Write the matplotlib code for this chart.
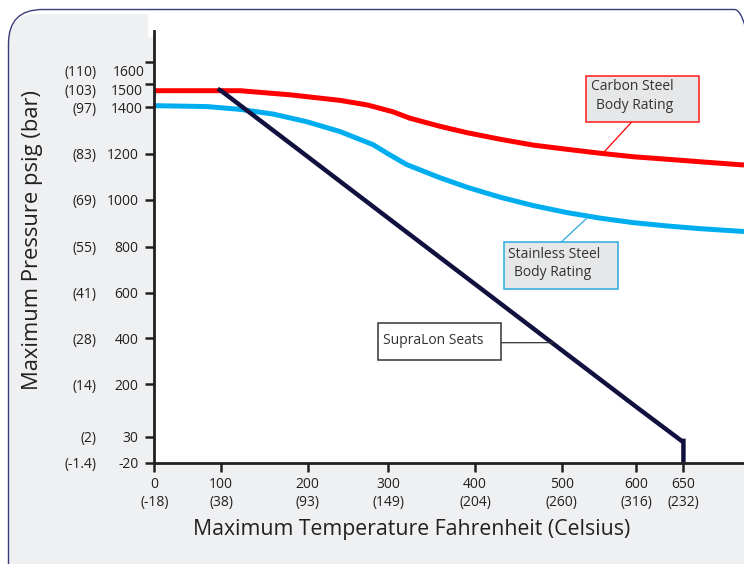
import numpy as np
import matplotlib
matplotlib.use("Agg")
import matplotlib.pyplot as plt
from matplotlib.patches import FancyBboxPatch, Rectangle

plt.rcParams['font.family'] = ['Open Sans', 'DejaVu Sans']

# --- data (deg F, psig) ---
carbon_f = [0, 122, 180, 240, 274, 305, 325, 360, 391, 429, 467, 507, 552, 596, 633, 668, 714]
carbon_p = [1472, 1472, 1454, 1430, 1410, 1381, 1353, 1318, 1291, 1263, 1238, 1220, 1203, 1188, 1177, 1166, 1152]

stainless_f = [0, 79, 122, 160, 199, 240, 281, 300, 321, 360, 391, 429, 467, 507, 552, 596, 632, 668, 714]
stainless_p = [1407, 1403, 1391, 1371, 1338, 1296, 1240, 1200, 1154, 1096, 1055, 1012, 976, 946, 922, 903, 889, 877, 865]

seat_f = [95, 100, 200, 300, 400, 500, 600, 648, 650, 650]
seat_p = [1480, 1472, 1188, 922, 637, 348, 127, 22, 22, -20]

x_ticks = [0, 100, 200, 300, 400, 500, 600, 650]
x_celsius = ['(-18)', '(38)', '(93)', '(149)', '(204)', '(260)', '(316)', '(232)']
y_ticks = [-20, 30, 200, 400, 600, 800, 1000, 1200, 1400, 1500, 1600]
y_bar = ['(-1.4)', '(2)', '(14)', '(28)', '(41)', '(55)', '(69)', '(83)', '(97)', '(103)', '(110)']

# the printed axes are not evenly spaced, so use piecewise-linear scales
xk_val = [-100, 0, 100, 200, 300, 400, 500, 600, 650, 800]
xk_pos = [87.6, 154.3, 221, 307.7, 388.3, 475, 561.7, 636, 683.3, 825.2]
yk_val = [-100, -20, 30, 200, 400, 600, 800, 1000, 1200, 1400, 1500, 1600, 2000]
yk_pos = [-41.6, 0, 26, 78.4, 124.4, 170, 216, 262.7, 308.7, 355.4, 378.4, 401, 491.4]


def xf(v):
    return np.interp(v, xk_val, xk_pos)


def xi(v):
    return np.interp(v, xk_pos, xk_val)


def yf(v):
    return np.interp(v, yk_val, yk_pos)


def yi(v):
    return np.interp(v, yk_pos, yk_val)


W, H = 744, 564
fig = plt.figure(figsize=(W / 100, H / 100), dpi=100)
tr = fig.dpi_scale_trans


def px(x, y):
    return (x / 100, (H - y) / 100)


# background frame
gray = '#eff0f2'
fig.add_artist(FancyBboxPatch(px(8.5, 600), 7.5, 5.86, boxstyle="round,pad=0,rounding_size=0.3",
                              transform=tr, facecolor=gray, edgecolor='none', zorder=-5))
fig.add_artist(Rectangle(px(148, 37), 6.2, 0.4, transform=tr, facecolor='white', edgecolor='none', zorder=-4))
fig.add_artist(Rectangle(px(155, 462.7), 6.2, (462.7 - 36) / 100, transform=tr,
                         facecolor='white', edgecolor='none', zorder=-4))
fig.add_artist(FancyBboxPatch(px(8.5, 620), 7.6, 6.105, boxstyle="round,pad=0,rounding_size=0.34",
                              transform=tr, facecolor='none', edgecolor='#3a3b7c', linewidth=1.0, zorder=-3))

ax = fig.add_axes([154.3 / W, (H - 462.7) / H, 1 - 154.3 / W, (462.7 - 30.7) / H])
ax.patch.set_alpha(0)
ax.set_xscale('function', functions=(xf, xi))
ax.set_yscale('function', functions=(yf, yi))
ax.set_xlim(0, 714)
ax.set_ylim(-20, 1737)

ax.plot(carbon_f, carbon_p, color='#ff0000', lw=3.6, solid_joinstyle='round', solid_capstyle='butt')
ax.plot(stainless_f, stainless_p, color='#00aeef', lw=3.6, solid_joinstyle='round', solid_capstyle='butt')
ax.plot(seat_f, seat_p, color='#11113f', lw=3.2, solid_joinstyle='miter', solid_capstyle='butt')

ink = '#231f20'
for s in ['top', 'right']:
    ax.spines[s].set_visible(False)
for s in ['left', 'bottom']:
    ax.spines[s].set_linewidth(2.0)
    ax.spines[s].set_color(ink)

ax.set_xticks(x_ticks, labels=[f"{t}\n{c}" for t, c in zip(x_ticks, x_celsius)])
ax.tick_params(axis='x', direction='out', length=6.5, width=1.8, color=ink, pad=3.5,
               labelsize=10, labelcolor=ink)
for lab in ax.get_xticklabels():
    lab.set_linespacing(1.35)
ax.set_yticks(y_ticks, labels=[''] * len(y_ticks))
ax.tick_params(axis='y', direction='out', length=6.5, width=1.8, color=ink)
ax.minorticks_off()

# y labels: psig and (bar) columns, top rows nudged like the print
nudge = {1600: (6, 8.7), 1500: (4.5, 5.5), 1400: (4, 0)}
ytr = ax.get_yaxis_transform()
for v, b in zip(y_ticks, y_bar):
    dx, dy = nudge.get(v, (0, 0))
    ax.annotate(str(v), xy=(0, v), xycoords=ytr, xytext=(-15.8 + dx, -dy), textcoords='offset pixels',
                ha='right', va='center_baseline', fontsize=10, color=ink, annotation_clip=False)
    ax.annotate(b, xy=(0, v), xycoords=ytr, xytext=(-58, -dy), textcoords='offset pixels',
                ha='right', va='center_baseline', fontsize=10, color=ink, annotation_clip=False)

fig.text(412 / W, 1 - 530 / H, 'Maximum Temperature Fahrenheit (Celsius)', ha='center', va='center',
         fontsize=15.3, color=ink)
fig.text(33 / W, 1 - 240 / H, 'Maximum Pressure psig (bar)', ha='center', va='center',
         rotation=90, fontsize=15.8, color=ink)

# callout boxes
boxes = [
    # (x0, y0, x1, y1), edge, face, lines, curve point, leader start, leader colour
    ((586, 75.7, 699.3, 122), '#ff1a1a', '#e6e7e8', [('Carbon Steel', 591, 86.7), ('Body Rating', 595.7, 105.7)],
     (555, 1202), (631.7, 122), '#ff0000'),
    ((504, 242.3, 617.7, 289.3), '#29abe2', '#e6e7e8', [('Stainless Steel', 507.7, 254), ('Body Rating', 514, 272.7)],
     (533, 920), (561, 242.3), '#29abe2'),
    ((378.3, 323.3, 501, 360), '#333333', 'white', [('SupraLon Seats', 382.7, 340.5)],
     (490, 381), (501, 342.7), '#333333'),
]
for (x0, y0, x1, y1), ec, fc, lines, pt, start, lc in boxes:
    fig.add_artist(Rectangle(px(x0, y1), (x1 - x0) / 100, (y1 - y0) / 100, transform=tr,
                             facecolor=fc, edgecolor=ec, linewidth=1.1, zorder=5))
    for txt, tx, ty in lines:
        fig.text(tx / W, 1 - ty / H, txt, ha='left', va='center', fontsize=10, color='#333333', zorder=6)
    ax.annotate('', xy=pt, xycoords='data', xytext=px(*start), textcoords=tr,
                arrowprops=dict(arrowstyle='-', color=lc, lw=0.9, shrinkA=0, shrinkB=0))

fig.savefig('out.png', dpi=100)
